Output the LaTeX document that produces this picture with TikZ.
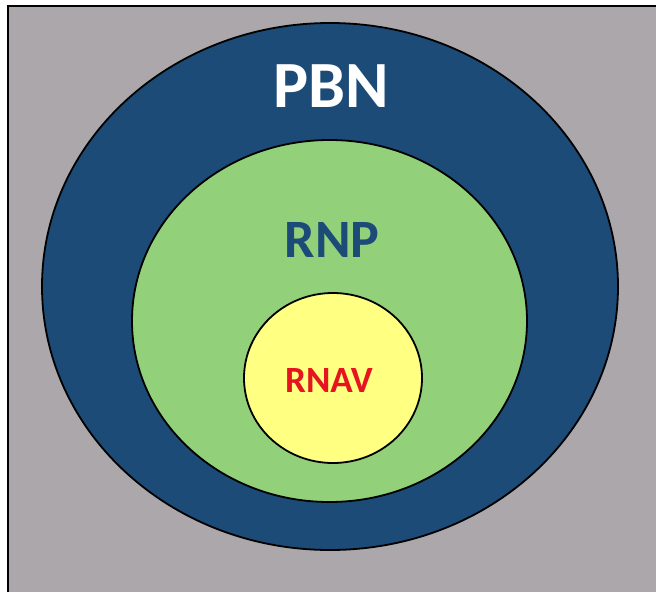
\documentclass[tikz,border=0pt]{standalone}
\usepackage{fontspec}
\setmainfont{Carlito}
\usetikzlibrary{shapes.geometric}
\definecolor{panelgray}{RGB}{171,167,171}
\definecolor{pbnblue}{RGB}{28,75,120}
\definecolor{rnpgreen}{RGB}{146,208,122}
\definecolor{rnavyellow}{RGB}{255,255,130}
\definecolor{rnavred}{RGB}{230,20,30}
\begin{document}
\begin{tikzpicture}[x=1pt,y=-1pt,
  ring/.style={draw=black,line width=1.8pt,ellipse,inner sep=0pt},
  lbl/.style={inner sep=0pt,anchor=center}]
\useasboundingbox (0,0) rectangle (656,592);
% panel with frame on top and left
\fill[panelgray] (8,6) rectangle (656,592);
\draw[line width=2.5pt] (8,592) -- (8,6) -- (656,6);
% nested regions
\node[ring,fill=pbnblue,minimum width=576pt,minimum height=527pt] (pbn) at (330,286.5) {};
\node[ring,fill=rnpgreen,minimum width=395pt,minimum height=362pt] (rnp) at (329.5,321) {};
\node[ring,fill=rnavyellow,minimum width=178pt,minimum height=170pt] (rnav) at (333,378) {};
% labels
\node[lbl,text=white,font=\fontsize{66}{66}\bfseries\selectfont] (tpbn) at (331,86) {PBN};
\node[lbl,text=pbnblue,font=\fontsize{54}{54}\bfseries\selectfont] (trnp) at (332,240) {RNP};
\node[lbl,text=rnavred,font=\fontsize{37}{37}\bfseries\selectfont] (trnav) at (329,380) {RNAV};
\end{tikzpicture}
\end{document}
